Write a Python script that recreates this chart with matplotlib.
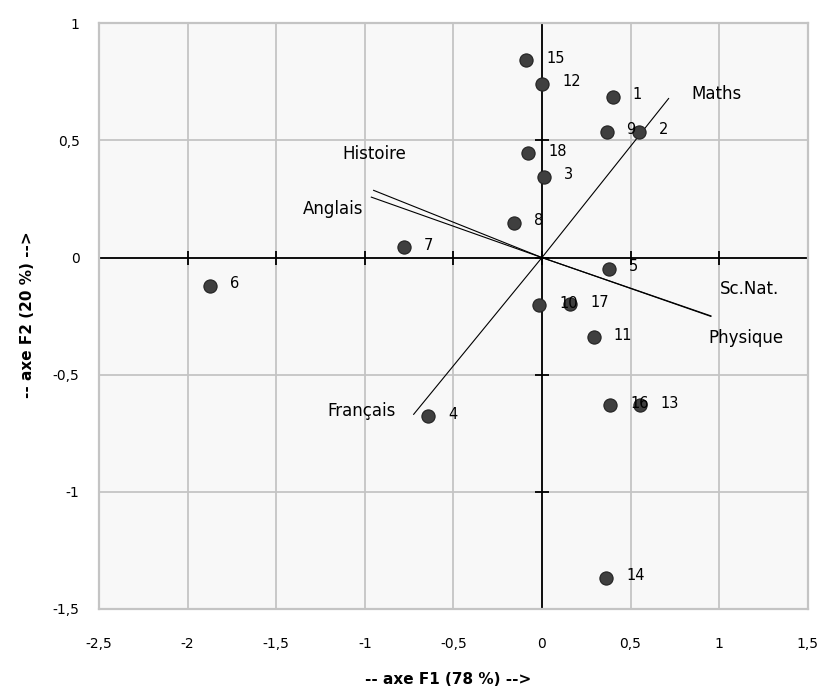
import matplotlib.pyplot as plt
import numpy as np

# ── observations (ACP scores on F1 / F2) ─────────────────────
obs_labels = [str(i) for i in range(1, 19)]
obs_f1 = [0.399, 0.546, 0.013, -0.643, 0.376, -1.875, -0.779, -0.156, 0.365,
          -0.015, 0.293, 0.002, 0.555, 0.363, -0.088, 0.386, 0.160, -0.077]
obs_f2 = [0.686, 0.538, 0.344, -0.677, -0.047, -0.121, 0.045, 0.149, 0.538,
          -0.204, -0.341, 0.743, -0.630, -1.367, 0.842, -0.630, -0.200, 0.445]

# ── variables (correlation vectors) ──────────────────────────
var_names = ['Maths', 'Physique', 'Sc.Nat.', 'Histoire', 'Anglais', 'Français']
var_f1 = [0.715, 0.953, 0.954, -0.950, -0.963, -0.724]
var_f2 = [0.679, -0.251, -0.249, 0.287, 0.258, -0.669]

xticks = [-2.5, -2, -1.5, -1, -0.5, 0, 0.5, 1, 1.5]
yticks = [-1.5, -1, -0.5, 0, 0.5, 1]

# label placement for the variable names (pixels, ha)
var_offsets = [(23, 5, 'left'), (-2, -22, 'left'), (9, 27, 'left'),
               (1, 36, 'center'), (-8, -12, 'right'), (-18, 3, 'right')]

fig = plt.figure(figsize=(8.35, 6.93), dpi=100)
fig.patch.set_facecolor('white')
ax = fig.add_axes([99 / 835, 1 - 609 / 693, 708.7 / 835, 585.7 / 693])
ax.set_facecolor('#f8f8f8')

ax.set_xlim(-2.5, 1.5)
ax.set_ylim(-1.5, 1)
ax.set_xticks(xticks)
ax.set_yticks(yticks)
fmt = lambda v: ('%g' % v).replace('.', ',')
ax.set_xticklabels([fmt(v) for v in xticks])
ax.set_yticklabels([fmt(v) for v in yticks])
ax.tick_params(axis='x', length=0, pad=20, labelsize=10)
ax.tick_params(axis='y', length=0, pad=14, labelsize=10)

ax.grid(True, color='#c4c4c4', linewidth=1.3, zorder=0)
ax.set_axisbelow(True)
for spine in ax.spines.values():
    spine.set_edgecolor('#c4c4c4')
    spine.set_linewidth(1.6)

# zero axes with their tick marks
ax.axhline(0, color='black', linewidth=1.3, zorder=2)
ax.axvline(0, color='black', linewidth=1.3, zorder=2)
ax.plot(xticks, np.zeros(len(xticks)), linestyle='none', marker='|',
        markersize=10, markeredgewidth=1.3, color='black', zorder=2, clip_on=False)
ax.plot(np.zeros(len(yticks)), yticks, linestyle='none', marker='_',
        markersize=10, markeredgewidth=1.3, color='black', zorder=2, clip_on=False)

# variable vectors
for name, vx, vy, (dx, dy, ha) in zip(var_names, var_f1, var_f2, var_offsets):
    ax.plot([0, vx], [0, vy], color='black', linewidth=0.8, zorder=3)
    ax.annotate(name, xy=(vx, vy), xytext=(dx, dy), textcoords='offset pixels',
                ha=ha, va='center', fontsize=12, color='black', zorder=6)

# observations
ax.plot(obs_f1, obs_f2, linestyle='none', marker='o', markersize=9.5,
        markerfacecolor='#3f3f3f', markeredgecolor='#222222',
        markeredgewidth=0.8, zorder=4)
for lab, px, py in zip(obs_labels, obs_f1, obs_f2):
    ax.annotate(lab, xy=(px, py), xytext=(20, 2), textcoords='offset pixels',
                ha='left', va='center', fontsize=10.5, color='black', zorder=5)

fig.text(448 / 835, 1 - 680 / 693, '-- axe F1 (78 %) -->', ha='center',
         va='center', fontsize=11, fontweight='bold')
fig.text(28 / 835, 1 - 315 / 693, '-- axe F2 (20 %) -->', ha='center',
         va='center', rotation=90, fontsize=11, fontweight='bold')

fig.savefig('out.png', dpi=100, facecolor='white')
